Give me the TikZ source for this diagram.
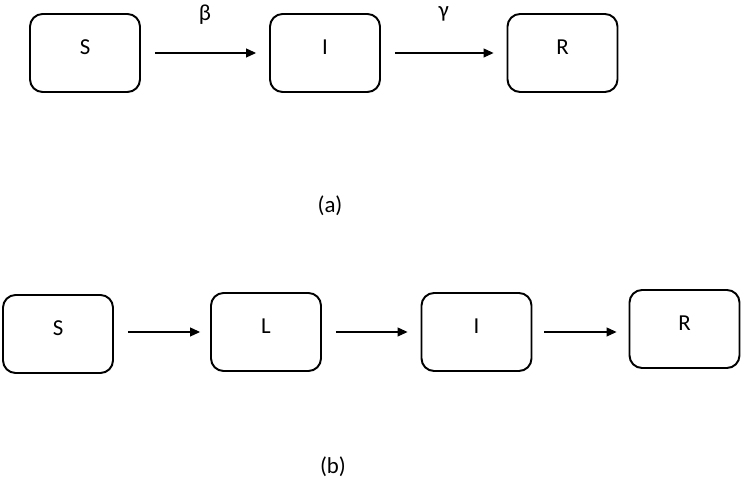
\documentclass[tikz,border=0pt]{standalone}
\usepackage{fontspec}
\setmainfont{Carlito}
\usetikzlibrary{arrows.meta}
\usetikzlibrary{positioning}

\begin{document}
\begin{tikzpicture}[x=0.02cm, y=-0.02cm,
  font=\fontsize{13}{15}\selectfont,
  box/.style={draw, line width=1.1pt, rounded corners=0.25cm, inner sep=0pt,
    minimum width=2.2cm, minimum height=1.56cm, text height=0.3cm, text depth=0.22cm},
  flow/.style={-{Triangle[length=0.2cm,width=0.18cm]}, line width=0.6pt,
    shorten <=0.28cm, shorten >=0.26cm}]
\useasboundingbox (0,0) rectangle (745,489);

% model (a)
\node[box] (aS) at (85,53) {S};
\node[box] (aI) at (325,53) {I};
\node[box] (aR) at (562.5,53) {R};
\draw[flow] (aS) -- node[midway, yshift=0.76cm] (beta) {β} (aI);
\draw[flow] (aI) -- node[midway, yshift=0.78cm] (gamma) {γ} (aR);
\node (capA) at (330,206) {(a)};

% model (b)
\node[box] (bS) at (58,334) {S};
\node[box] (bL) at (266,332) {L};
\node[box] (bI) at (476.5,332) {I};
\node[box] (bR) at (684.5,329) {R};
\draw[flow, shorten >=0.2cm] (bS.east |- bL.west) -- (bL.west);
\draw[flow] (bL) -- (bI);
\draw[flow, shorten <=0.24cm, shorten >=0.24cm] (bI.east) -- (bI.east -| bR.west);
\node (capB) at (333,467) {(b)};
\end{tikzpicture}
\end{document}
